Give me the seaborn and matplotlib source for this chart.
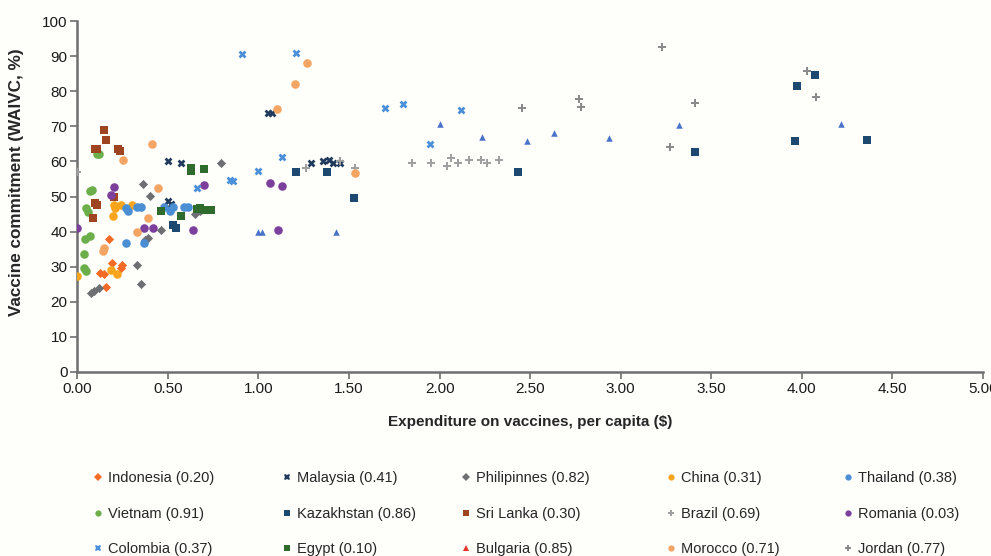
import pandas as pd
import matplotlib
matplotlib.use("Agg")
import matplotlib.pyplot as plt
from matplotlib.lines import Line2D
import seaborn as sns

# expenditure per capita ($) and vaccine commitment (WAIVC, %) per country
indonesia_x = [0.175, 0.19, 0.245, 0.24, 0.125, 0.145, 0.16]
indonesia_y = [38, 31, 30.5, 29.5, 28.3, 28, 24.3]
malaysia_x = [0.50, 0.574, 0.50, 0.52, 1.05, 1.075, 1.29, 1.355, 1.39, 1.41, 1.45]
malaysia_y = [60.1, 59.5, 48.7, 48, 73.7, 73.7, 59.5, 60.2, 60.5, 59.5, 59.5]
philippines_x = [0.075, 0.09, 0.12, 0.33, 0.35, 0.365, 0.40, 0.39, 0.375, 0.46, 0.65, 0.795, 0.68]
philippines_y = [22.4, 23, 24, 30.5, 25, 53.6, 50.1, 38.3, 37.5, 40.6, 45, 59.5, 46]
china_x = [0.0, 0.2, 0.21, 0.24, 0.30, 0.195, 0.185, 0.22]
china_y = [27.4, 47.6, 46.6, 47.6, 47.6, 44.5, 29, 28]
thailand_x = [0.27, 0.28, 0.33, 0.35, 0.27, 0.37, 0.48, 0.51, 0.53, 0.59, 0.61]
thailand_y = [46.6, 46, 47, 47, 36.8, 36.8, 47, 46, 47, 47, 47]
vietnam_x = [0.11, 0.12, 0.07, 0.08, 0.05, 0.06, 0.04, 0.07, 0.035, 0.035, 0.05]
vietnam_y = [62, 62, 51.5, 52, 46.8, 45.5, 38, 38.8, 33.6, 29.7, 28.8]
kazakhstan_x = [0.53, 0.545, 1.21, 1.38, 1.525, 2.43, 3.41, 4.07, 3.975, 3.96, 4.36]
kazakhstan_y = [41.9, 41, 57, 57, 49.7, 57, 62.6, 84.6, 81.5, 65.7, 66]
srilanka_x = [0.15, 0.16, 0.095, 0.11, 0.225, 0.235, 0.095, 0.11, 0.085, 0.205]
srilanka_y = [69, 66, 63.5, 63.5, 63.5, 63, 48.2, 47.5, 44, 50]
brazil_x = [0.0, 1.26, 1.45, 1.535, 1.85, 1.95, 2.04, 2.065, 2.10, 2.165, 2.23, 2.26, 2.33]
brazil_y = [57, 58, 60.2, 58, 59.5, 59.5, 58.8, 60.9, 59.7, 60.3, 60.3, 59.7, 60.3]
romania_x = [0.0, 0.205, 0.185, 0.37, 0.42, 0.64, 0.70, 1.065, 1.13, 1.11]
romania_y = [41, 52.8, 50.4, 41, 41, 40.5, 53.3, 54, 53, 40.5]
colombia_x = [0.66, 0.845, 0.86, 1.0, 0.91, 1.21, 1.13, 1.70, 1.80, 2.12, 1.945]
colombia_y = [52.5, 54.7, 54.5, 57.3, 90.6, 91, 61.2, 75.3, 76.4, 74.8, 64.9]
egypt_x = [0.63, 0.63, 0.70, 0.46, 0.57, 0.66, 0.68, 0.705, 0.74]
egypt_y = [58, 57.2, 57.8, 45.9, 44.4, 46.4, 46.6, 46.3, 46.3]
bulgaria_x = [0.995, 1.02, 1.43, 2.0, 2.235, 2.485, 2.63, 2.935, 3.32, 4.215]
bulgaria_y = [40, 40, 40, 70.7, 67, 65.9, 68, 66.8, 70.4, 70.7]
morocco_x = [0.41, 0.25, 0.445, 0.39, 0.33, 0.145, 0.14, 1.27, 1.2, 1.105, 1.535]
morocco_y = [65, 60.4, 52.5, 43.8, 40, 35.2, 34.5, 88, 82.2, 75, 56.8]
jordan_x = [2.455, 3.23, 2.77, 2.78, 3.41, 3.27, 4.03, 4.08]
jordan_y = [75.3, 92.7, 77.8, 75.6, 76.6, 64, 85.8, 78.3]

countries = ["Indonesia", "Malaysia", "Philipinnes", "China", "Thailand",
             "Vietnam", "Kazakhstan", "Sri Lanka", "Brazil", "Romania",
             "Colombia", "Egypt", "Bulgaria", "Morocco", "Jordan"]
corr = ["0.20", "0.41", "0.82", "0.31", "0.38",
        "0.91", "0.86", "0.30", "0.69", "0.03",
        "0.37", "0.10", "0.85", "0.71", "0.77"]
xs = [indonesia_x, malaysia_x, philippines_x, china_x, thailand_x,
      vietnam_x, kazakhstan_x, srilanka_x, brazil_x, romania_x,
      colombia_x, egypt_x, bulgaria_x, morocco_x, jordan_x]
ys = [indonesia_y, malaysia_y, philippines_y, china_y, thailand_y,
      vietnam_y, kazakhstan_y, srilanka_y, brazil_y, romania_y,
      colombia_y, egypt_y, bulgaria_y, morocco_y, jordan_y]

colors = {"Indonesia": "#f26a25", "Malaysia": "#1f3a5c", "Philipinnes": "#6e6f73",
          "China": "#f8a51d", "Thailand": "#4a8fd4", "Vietnam": "#6caf4a",
          "Kazakhstan": "#1d4870", "Sri Lanka": "#9e4420", "Brazil": "#a0a0a0",
          "Romania": "#7d3f9c", "Colombia": "#4a8fd9", "Egypt": "#2f6b2d",
          "Bulgaria": "#4a72c8", "Morocco": "#f4a463", "Jordan": "#8a8a8a"}
markers = {"Indonesia": "D", "Malaysia": "X", "Philipinnes": "D", "China": "o",
           "Thailand": "o", "Vietnam": "o", "Kazakhstan": "s", "Sri Lanka": "s",
           "Brazil": "P", "Romania": "o", "Colombia": "X", "Egypt": "s",
           "Bulgaria": "^", "Morocco": "o", "Jordan": "P"}
sizes = {"D": 22, "X": 32, "o": 38, "s": 28, "P": 30, "^": 22}

rows = []
for c, xv, yv in zip(countries, xs, ys):
    for a, b in zip(xv, yv):
        rows.append({"country": c, "spend": a, "commit": b})
df = pd.DataFrame(rows)

sns.set_style("white")
plt.rcParams['font.family'] = ['Liberation Sans', 'DejaVu Sans']

fig = plt.figure(figsize=(9.91, 5.56), dpi=100, facecolor="#fefefb")
ax = fig.add_axes([0.078, 0.331, 0.914, 0.631])
ax.set_facecolor("#fefefb")

for c in countries:
    sub = df[df["country"] == c]
    m = markers[c]
    sns.scatterplot(data=sub, x="spend", y="commit", color=colors[c], marker=m,
                    s=sizes[m], linewidth=0, ax=ax, legend=False, zorder=3)

ax.set_xlim(0, 5)
ax.set_ylim(0, 100)
ax.set_xticks([i * 0.5 for i in range(11)])
ax.set_xticklabels([f"{i * 0.5:.2f}" for i in range(11)])
ax.set_yticks(range(0, 101, 10))
ax.tick_params(axis="both", direction="out", length=5, width=1.2, color="#6f6f6f",
               labelsize=11, labelcolor="#1a1a1a", bottom=True, left=True, pad=2)
for s in ["top", "right"]:
    ax.spines[s].set_visible(False)
for s in ["left", "bottom"]:
    ax.spines[s].set_color("#6f6f6f")
    ax.spines[s].set_linewidth(1.8)

ax.set_xlabel("Expenditure on vaccines, per capita ($)", fontsize=11,
              fontweight="bold")
ax.xaxis.set_label_coords(0.5, -0.122)
ax.set_ylabel("Vaccine commitment (WAIVC, %)", fontsize=12.3, fontweight="bold")
ax.yaxis.set_label_coords(-0.059, 0.54)

# legend: five columns of three rows, Bulgaria keyed in red as in the original
legend_colors = dict(colors)
legend_colors["Bulgaria"] = "#e8322b"
col_x = [0.0929, 0.2836, 0.4642, 0.6710, 0.8497]
for j in range(5):
    handles = []
    labels = []
    for r in range(3):
        c = countries[r * 5 + j]
        m = markers[c]
        handles.append(Line2D([], [], linestyle="none", marker=m, markersize=4.5,
                              markerfacecolor=legend_colors[c],
                              markeredgecolor=legend_colors[c], markeredgewidth=0))
        labels.append(f"{c} ({corr[r * 5 + j]})")
    fig.legend(handles, labels, loc="upper left", bbox_to_anchor=(col_x[j], 0.152),
               frameon=False, fontsize=10.5, labelspacing=1.45, handlelength=0.8,
               handletextpad=0.3, borderaxespad=0, borderpad=0)

fig.savefig("out.png", dpi=100, facecolor=fig.get_facecolor())
